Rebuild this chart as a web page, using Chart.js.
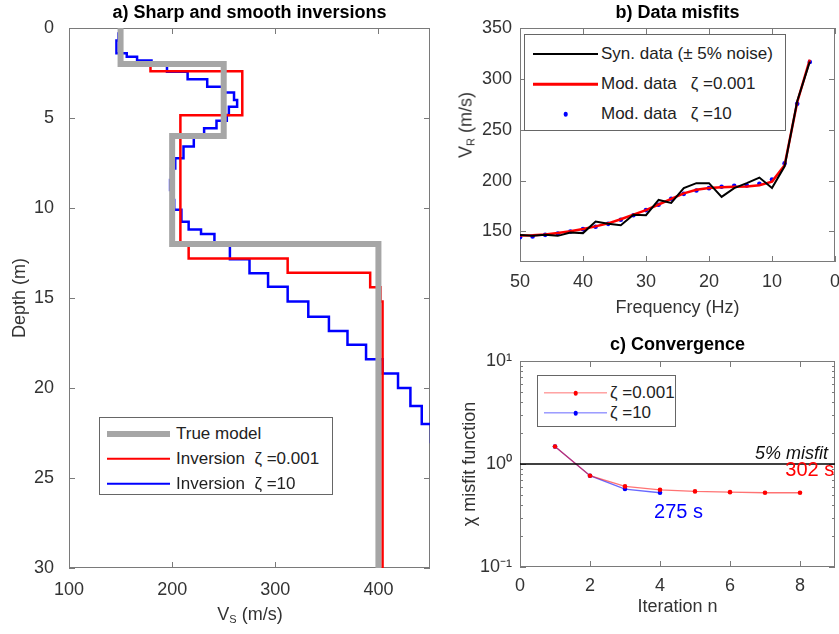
<!DOCTYPE html>
<html>
<head>
<meta charset="utf-8">
<script src="https://cdn.jsdelivr.net/npm/chart.js@4.4.1/dist/chart.umd.min.js"></script>
<style>
  body { margin: 0; background: #fff; width: 839px; height: 634px; overflow: hidden; position: relative;
         font-family: "Liberation Sans", Arial, sans-serif; }
  canvas { position: absolute; }
  #chartA { left: 0; top: 0; }
  #chartB { left: 455px; top: 0; }
  #chartC { left: 455px; top: 330px; }
  .legend { position: absolute; background: #fff; border: 1px solid #666; color: #222; font-size: 17px; box-sizing: border-box; }
  .legend .row { position: relative; display: flex; align-items: center; white-space: pre; }
  .legend .sample { position: relative; height: 100%; flex: none; }
  .legend .line { position: absolute; left: 0; right: 0; top: 50%; transform: translateY(-50%); }
  .legend .dot { position: absolute; left: 50%; top: 50%; transform: translate(-50%, -50%); border-radius: 50%; }
  .axis-label { position: absolute; font-size: 18px; color: #333; white-space: nowrap; transform: translate(-50%, -50%); }
  .axis-label sub { font-size: 11px; vertical-align: -3px; }
  #labelVr { transform: translate(-50%, -50%) rotate(-90deg); }
</style>
</head>
<body>
<canvas id="chartA" width="445" height="634"></canvas>
<canvas id="chartB" width="384" height="320"></canvas>
<canvas id="chartC" width="384" height="304"></canvas>

<div class="legend" id="legendA" style="left:99px;top:417px;width:234px;height:78px;padding-top:3px;--row:25px;--sl:7px;--sw:63px;--gap:6px"></div>
<div class="legend" id="legendB" style="left:524px;top:34px;width:262px;height:97px;padding-top:4px;--row:30px;--sl:8px;--sw:65px;--gap:3px"></div>
<div class="legend" id="legendC" style="left:537px;top:375px;width:139px;height:52px;padding-top:7px;--row:20px;--sl:6px;--sw:63px;--gap:3px"></div>

<div class="axis-label" style="left:250px;top:614px">V<sub>S</sub> (m/s)</div>
<div class="axis-label" id="labelVr" style="left:466px;top:125px">V<sub>R</sub> (m/s)</div>

<script>
/* a) Velocity profiles: layer velocity (m/s) and depth of layer bottom (m) */
const trueVs = [150, 250, 200, 400];
const trueBottom = [2, 6, 12, 30];

const sharpVs = [151, 179, 268, 208, 216, 312, 392, 402, 404];
const sharpBottom = [1.9, 2.4, 4.85, 12, 12.8, 13.6, 14.4, 15.2, 30];

const smoothVs = [150, 148, 146, 156, 166, 180, 195, 215, 234, 250, 260, 263, 255, 253, 243, 231,
  221, 211, 203, 199, 198, 200, 202, 209, 216, 228, 241, 256, 275, 293, 312, 332, 352, 370,
  388, 404, 419, 431, 442, 451, 465, 475, 485, 495, 505, 515, 520];
const smoothBottom = [0.3, 0.7, 1.4, 1.6, 1.8, 1.96, 2.43, 2.85, 3.26, 3.59, 4.0, 4.37, 4.83, 5.15, 5.57, 5.94,
  6.59, 7.24, 7.8, 8.44, 9.0, 9.56, 10.1, 10.76, 11.2, 11.45, 11.96, 12.85, 13.63, 14.37, 15.2, 16.04, 16.83, 17.6,
  18.4, 19.2, 20.0, 21.0, 22.0, 23.0, 24, 25, 26, 27, 28, 29, 30];

/* b) Dispersion curves */
const freqHz = [50, 48, 46, 44, 42, 40, 38, 36, 34, 32, 30, 28, 26, 24, 22, 20, 18, 16, 14, 12, 10, 8, 6, 4];
const synData = [146.5, 145.7, 146.7, 145.7, 149, 148.4, 159.8, 157.5, 156.2, 166.4, 166, 181, 178, 192.6,
  197.5, 197.5, 184, 192.6, 197.5, 203, 192.8, 214, 278, 317];
const modSharp = [146, 146.3, 147, 148.5, 150.3, 152.5, 155, 158, 162, 166.5, 171, 176.5, 182, 187.5,
  191, 192.8, 193.5, 194, 194.3, 195.5, 199, 215, 277, 319];
const modSmooth = [144.4, 145.1, 146.7, 148, 150, 152.3, 154.6, 157.5, 161.5, 166, 171, 176.2, 182.1, 187,
  190.3, 192.6, 194, 194.9, 195.2, 196.9, 201.1, 216.9, 275.6, 316.6];

/* c) Convergence */
const iterSharp = [1, 2, 3, 4, 5, 6, 7, 8];
const misfitSharp = [1.48, 0.77, 0.606, 0.562, 0.542, 0.533, 0.526, 0.526];
const iterSmooth = [1, 2, 3, 4];
const misfitSmooth = [1.48, 0.77, 0.571, 0.526];
const targetMisfit = 1;
const iterRange = [0, 9];

/* Tick values */
const vsTicks = [100, 200, 300, 400];
const depthTicks = [0, 5, 10, 15, 20, 25, 30];
const vrTicks = [150, 200, 250, 300, 350];
const freqTicks = [0, 10, 20, 30, 40, 50];
const iterTicks = [0, 2, 4, 6, 8];
const misfitTicks = [0.1, 1, 10];


const FONT = '"Liberation Sans", Arial, sans-serif';
const AXIS = '#7a7a7a';
const TEXT = '#333';
const tickFont = { family: FONT, size: 18 };
const titleFont = { family: FONT, size: 18, weight: 'bold' };

function toSteps(vs, bottoms) {
  const pts = [];
  let top = 0;
  vs.forEach((v, i) => {
    pts.push({ x: v, y: top }, { x: v, y: bottoms[i] });
    top = bottoms[i];
  });
  return pts;
}

function toPoints(xs, ys) {
  return xs.map((x, i) => ({ x, y: ys[i] }));
}

function fixedTicks(values) {
  return scale => { scale.ticks = values.map(v => ({ value: v })); };
}

function logTicks(majors) {
  return scale => {
    const t = [];
    majors.forEach((m, i) => {
      t.push({ value: m });
      if (i < majors.length - 1) {
        for (let k = 2; k <= 9; k++) t.push({ value: m * k, minor: true });
      }
    });
    scale.ticks = t;
  };
}

function xAxis(height, pad, extra) {
  return Object.assign({
    type: 'linear',
    grid: { display: false },
    border: { display: false },
    ticks: { font: tickFont, color: TEXT, padding: pad, maxRotation: 0, autoSkip: false },
    afterFit: s => { s.height = height; s.paddingLeft = 0; s.paddingRight = 0; }
  }, extra);
}

function yAxis(width, pad, extra) {
  return Object.assign({
    type: 'linear',
    grid: { display: false },
    border: { display: false },
    ticks: { font: tickFont, color: TEXT, padding: pad, autoSkip: false },
    afterFit: s => { s.width = width; }
  }, extra);
}

/* Box round the plot with inward ticks, like MATLAB */
const boxPlugin = {
  id: 'matlabBox',
  beforeDatasetsDraw(chart) {
    const { ctx, chartArea: a, scales } = chart;
    ctx.save();
    ctx.strokeStyle = AXIS;
    ctx.lineWidth = 1;
    ctx.strokeRect(a.left + 0.5, a.top + 0.5, a.width - 1, a.height - 1);
    Object.values(scales).forEach(scale => {
      scale.ticks.forEach(t => {
        const p = Math.round(scale.getPixelForValue(t.value)) + 0.5;
        const len = t.minor ? 3 : 6;
        ctx.beginPath();
        if (scale.isHorizontal()) {
          ctx.moveTo(p, a.bottom); ctx.lineTo(p, a.bottom - len);
          ctx.moveTo(p, a.top); ctx.lineTo(p, a.top + len);
        } else {
          ctx.moveTo(a.left, p); ctx.lineTo(a.left + len, p);
          ctx.moveTo(a.right, p); ctx.lineTo(a.right - len, p);
        }
        ctx.stroke();
      });
    });
    ctx.restore();
  }
};

/* Text notes placed in data units */
const notePlugin = {
  id: 'notes',
  afterDatasetsDraw(chart, args, opts) {
    const { ctx, scales } = chart;
    (opts.items || []).forEach(n => {
      ctx.save();
      ctx.font = n.font;
      ctx.fillStyle = n.color;
      ctx.textAlign = n.align || 'left';
      ctx.textBaseline = 'alphabetic';
      ctx.fillText(n.text, scales.x.getPixelForValue(n.x) + (n.dx || 0), scales.y.getPixelForValue(n.y) + (n.dy || 0));
      ctx.restore();
    });
  }
};

const base = {
  animation: false,
  responsive: false,
  events: []
};

/* a) Sharp and smooth inversions */
const chartA = new Chart(document.getElementById('chartA'), {
  type: 'scatter',
  data: {
    datasets: [
      { label: 'True model', data: toSteps(trueVs, trueBottom), showLine: true,
        borderColor: '#a6a6a6', borderWidth: 6, pointRadius: 0, borderJoinStyle: 'miter' },
      { label: 'Inversion  ζ =0.001', data: toSteps(sharpVs, sharpBottom), showLine: true,
        borderColor: '#ff0000', borderWidth: 2.5, pointRadius: 0, borderJoinStyle: 'miter' },
      { label: 'Inversion  ζ =10', data: toSteps(smoothVs, smoothBottom), showLine: true,
        borderColor: '#0000ff', borderWidth: 2.5, pointRadius: 0, borderJoinStyle: 'miter' }
    ]
  },
  options: Object.assign({}, base, {
    layout: { padding: { right: 15 } },
    plugins: {
      legend: { display: false },
      tooltip: { enabled: false },
      title: { display: true, text: 'a) Sharp and smooth inversions', fullSize: false,
        font: titleFont, color: '#000', padding: { top: 2, bottom: 4.4 } }
    },
    scales: {
      x: xAxis(66, 3, { min: 100, max: 450, afterBuildTicks: fixedTicks(vsTicks) }),
      y: yAxis(69, 7, { reverse: true, min: 0, max: 30, afterBuildTicks: fixedTicks(depthTicks),
        title: { display: true, text: 'Depth (m)', font: tickFont, color: TEXT, padding: { top: 9, bottom: 0 } } })
    }
  }),
  plugins: [boxPlugin]
});

/* b) Data misfits */
const chartB = new Chart(document.getElementById('chartB'), {
  type: 'scatter',
  data: {
    datasets: [
      { label: 'Syn. data (± 5% noise)', data: toPoints(freqHz, synData), showLine: true,
        borderColor: '#000000', borderWidth: 2, pointRadius: 0 },
      { label: 'Mod. data   ζ =0.001', data: toPoints(freqHz, modSharp), showLine: true,
        borderColor: '#ff0000', borderWidth: 2.5, pointRadius: 0 },
      { label: 'Mod. data   ζ =10', data: toPoints(freqHz, modSmooth), showLine: false,
        pointRadius: 2.3, pointBackgroundColor: '#0000ff', pointBorderWidth: 0 }
    ]
  },
  options: Object.assign({}, base, {
    layout: { padding: { right: 2 } },
    plugins: {
      legend: { display: false },
      tooltip: { enabled: false },
      title: { display: true, text: 'b) Data misfits', fullSize: false,
        font: titleFont, color: '#000', padding: { top: 2, bottom: 4.4 } }
    },
    scales: {
      x: xAxis(58, 1, { reverse: true, min: 0, max: 50, afterBuildTicks: fixedTicks(freqTicks),
        title: { display: true, text: 'Frequency (Hz)', font: tickFont, color: TEXT, padding: { top: 1, bottom: 1 } } }),
      y: yAxis(65, 0, { min: 120, max: 350, afterBuildTicks: fixedTicks(vrTicks) })
    }
  }),
  plugins: [boxPlugin]
});

/* c) Convergence */
const supDigits = { '-': '⁻', '0': '⁰', '1': '¹', '2': '²', '3': '³' };
const chartC = new Chart(document.getElementById('chartC'), {
  type: 'scatter',
  data: {
    datasets: [
      { data: toPoints(iterRange, iterRange.map(() => targetMisfit)), showLine: true,
        borderColor: '#000000', borderWidth: 1.5, pointRadius: 0 },
      { label: 'ζ =0.001', data: toPoints(iterSharp, misfitSharp), showLine: true,
        borderColor: 'rgba(255,0,0,0.55)', borderWidth: 1.3, pointRadius: 2.3,
        pointBackgroundColor: '#ff0000', pointBorderWidth: 0 },
      { label: 'ζ =10', data: toPoints(iterSmooth, misfitSmooth), showLine: true,
        borderColor: 'rgba(40,40,255,0.7)', borderWidth: 1.3, pointRadius: 2.3,
        pointBackgroundColor: '#0000ff', pointBorderWidth: 0 }
    ]
  },
  options: Object.assign({}, base, {
    plugins: {
      legend: { display: false },
      tooltip: { enabled: false },
      title: { display: true, text: 'c) Convergence', fullSize: false,
        font: titleFont, color: '#000', padding: { top: 4.2, bottom: 5.2 } },
      notes: {
        items: [
          { text: '5% misfit', x: 9, y: 1, dx: -7, dy: -5, align: 'right', color: '#111',
            font: 'italic 18px ' + FONT },
          { text: '302 s', x: 7.58, y: 0.77, color: '#ff0000', font: '20px ' + FONT },
          { text: '275 s', x: 3.83, y: 0.301, color: '#0000ff', font: '20px ' + FONT }
        ]
      }
    },
    scales: {
      x: xAxis(67, 0, { min: 0, max: 9, afterBuildTicks: fixedTicks(iterTicks),
        title: { display: true, text: 'Iteration n', font: tickFont, color: TEXT, padding: { top: 16, bottom: 16 } } }),
      y: yAxis(65, 0, { type: 'logarithmic', min: 0.1, max: 10, afterBuildTicks: logTicks(misfitTicks),
        ticks: { font: tickFont, color: TEXT, padding: 0, autoSkip: false,
          callback: (v, i, ticks) => {
            if (ticks[i].minor) return '';
            const e = String(Math.round(Math.log10(v)));
            return '10' + e.split('').map(c => supDigits[c]).join('');
          } },
        title: { display: true, text: 'χ misfit function', font: tickFont, color: TEXT, padding: { top: 4, bottom: 0 } } })
    }
  }),
  plugins: [boxPlugin, notePlugin]
});

/* HTML legends built from the datasets */
function buildLegend(chart, id) {
  const box = document.getElementById(id);
  chart.data.datasets.filter(ds => ds.label).forEach(ds => {
    const row = document.createElement('div');
    row.className = 'row';
    row.style.height = 'var(--row)';
    const sample = document.createElement('span');
    sample.className = 'sample';
    sample.style.width = 'var(--sw)';
    sample.style.marginLeft = 'var(--sl)';
    sample.style.marginRight = 'var(--gap)';
    if (ds.showLine !== false) {
      const line = document.createElement('i');
      line.className = 'line';
      line.style.height = ds.borderWidth + 'px';
      line.style.background = ds.borderColor;
      sample.appendChild(line);
    }
    if (ds.pointRadius > 0) {
      const dot = document.createElement('b');
      dot.className = 'dot';
      dot.style.width = dot.style.height = (ds.pointRadius * 2) + 'px';
      dot.style.background = ds.pointBackgroundColor;
      sample.appendChild(dot);
    }
    const text = document.createElement('span');
    text.textContent = ds.label;
    row.append(sample, text);
    box.appendChild(row);
  });
}

buildLegend(chartA, 'legendA');
buildLegend(chartB, 'legendB');
buildLegend(chartC, 'legendC');
</script>
</body>
</html>
